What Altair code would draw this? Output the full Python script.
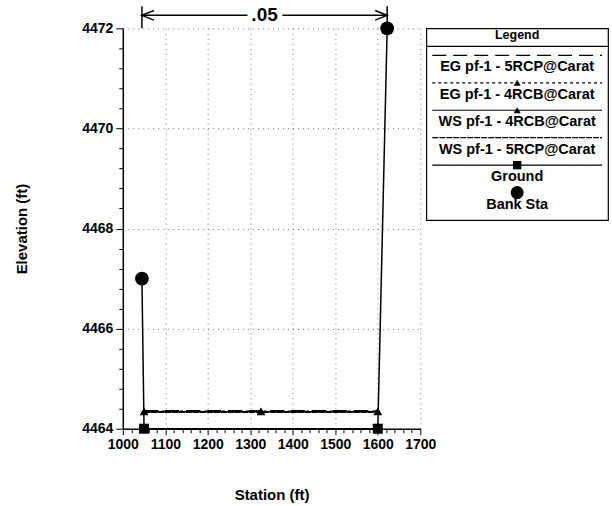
import altair as alt
import pandas as pd

# ---------------- data ----------------
ground_sta = [1045, 1050, 1600, 1622]
ground_elev = [4467.0, 4464.0, 4464.0, 4472.0]
bank_sta = [1045, 1622]
bank_elev = [4467.0, 4472.0]
ws_sta = [1050, 1325, 1600]
eg_5rcp = [4464.36, 4464.36, 4464.36]
eg_4rcb = [4464.35, 4464.35, 4464.35]
ws_4rcb = [4464.34, 4464.34, 4464.34]
ws_5rcp = [4464.33, 4464.33, 4464.33]
n_value = ".05"
n_left, n_right = 1045, 1622
legend_labels = ["EG pf-1 - 5RCP@Carat", "EG pf-1 - 4RCB@Carat",
                 "WS pf-1 - 4RCB@Carat", "WS pf-1 - 5RCP@Carat",
                 "Ground", "Bank Sta"]
x_ticks = list(range(1000, 1701, 20))
y_ticks = [round(4464 + 0.4 * i, 1) for i in range(21)]
x_domain = [1000, 1700]
y_domain = [4464, 4472]

FONT = "Liberation Sans"

rows = []
for name, vals in [(legend_labels[0], eg_5rcp), (legend_labels[1], eg_4rcb),
                   (legend_labels[2], ws_4rcb), (legend_labels[3], ws_5rcp)]:
    for s, e in zip(ws_sta, vals):
        rows.append({"series": name, "station": s, "elev": e})
for s, e in zip(ground_sta, ground_elev):
    rows.append({"series": "Ground", "station": s, "elev": e})
lines_df = pd.DataFrame(rows)
bank_df = pd.DataFrame({"station": bank_sta, "elev": bank_elev})

dash_range = [[14, 7], [3, 3], [1, 0], [6, 1], [1, 0]]
dash_scale = alt.Scale(domain=legend_labels[:5], range=dash_range)

x_major = "datum.value % 100 === 0"
y_major = "abs(datum.value / 2 - round(datum.value / 2)) < 0.001"

x_axis = alt.Axis(
    values=x_ticks, tickCount=200,
    labelExpr=f"{x_major} ? format(datum.value, 'd') : ''",
    labelOverlap=False, labelFlush=False,
    tickSize={"condition": {"test": x_major, "value": 6}, "value": 4},
    tickColor="black", tickWidth=1,
    grid=True,
    gridColor={"condition": {"test": x_major + " && datum.value > 1000", "value": "#777777"},
               "value": "transparent"},
    gridDash=[1, 4], gridWidth=1,
    domainColor="black", domainWidth=1.5,
    labelFont=FONT, labelFontSize=14, labelFontWeight="bold", labelColor="black",
    labelPadding=3,
    titleFont=FONT, titleFontSize=15, titleFontWeight="bold", titleColor="black",
    titlePadding=36,
)
y_axis = alt.Axis(
    values=y_ticks, tickCount=200,
    labelExpr=f"{y_major} ? format(datum.value, 'd') : ''",
    labelOverlap=False, labelFlush=False,
    tickSize={"condition": {"test": y_major, "value": 7}, "value": 4},
    tickColor="black", tickWidth=1,
    grid=True,
    gridColor={"condition": {"test": y_major + " && datum.value > 4464", "value": "#777777"},
               "value": "transparent"},
    gridDash=[1, 4], gridWidth=1,
    domainColor="black", domainWidth=1.5,
    labelFont=FONT, labelFontSize=14, labelFontWeight="bold", labelColor="black",
    labelPadding=3,
    titleFont=FONT, titleFontSize=15, titleFontWeight="bold", titleColor="black",
    titlePadding=52,
)

X = alt.X("station:Q", scale=alt.Scale(domain=x_domain, nice=False, zero=False),
          axis=x_axis, title="Station (ft)")
Y = alt.Y("elev:Q", scale=alt.Scale(domain=y_domain, nice=False, zero=False),
          axis=y_axis, title="Elevation (ft)")

line_layer = alt.Chart(lines_df).mark_line(color="black", strokeWidth=1.5).encode(
    x=X, y=Y, detail="series:N",
    strokeDash=alt.StrokeDash("series:N", scale=dash_scale, legend=None),
)
squares = alt.Chart(lines_df).transform_filter(alt.datum.series == "Ground").mark_point(
    shape="square", filled=True, color="black", size=100, opacity=1).encode(x=X, y=Y)
triangles = alt.Chart(lines_df).transform_filter(
    alt.FieldOneOfPredicate(field="series", oneOf=[legend_labels[1], legend_labels[2]])
).mark_point(shape="triangle-up", filled=True, color="black", size=70, opacity=1).encode(x=X, y=Y)
circles = alt.Chart(bank_df).mark_point(
    shape="circle", filled=True, color="black", size=190, opacity=1).encode(x=X, y=Y)

# Manning's n annotation above the plot
arrow_elev = y_domain[1] + 0.26
bar_top = y_domain[1] + 0.44
ann_df = pd.DataFrame({"station": [n_left, n_right]})
ann_df["elev"] = y_domain[1]
ann_df["top"] = bar_top
bars = alt.Chart(ann_df).mark_rule(color="black", strokeWidth=1.5).encode(
    x=X, y=Y, y2="top:Q")
arrow_line = alt.Chart(pd.DataFrame({"station": [n_left], "s2": [n_right], "elev": [arrow_elev]})
                       ).mark_rule(color="black", strokeWidth=1.5).encode(x=X, x2="s2:Q", y=Y)
heads = alt.Chart(pd.DataFrame({"station": [n_left, n_right], "elev": [arrow_elev] * 2,
                                "side": ["l", "r"]})).mark_point(
    filled=False, color="black", strokeWidth=1.5, size=144, opacity=1).encode(
    x=X, y=Y,
    shape=alt.Shape("side:N", scale=alt.Scale(domain=["l", "r"],
                                              range=["M 2 -0.8 L 0 0 L 2 0.8",
                                                     "M -2 -0.8 L 0 0 L -2 0.8"]),
                    legend=None))
n_df = pd.DataFrame({"station": [(n_left + n_right) / 2], "elev": [arrow_elev], "label": [n_value]})
n_halo = alt.Chart(n_df).mark_text(font=FONT, fontSize=19, fontWeight="bold", color="white",
                                   stroke="white", strokeWidth=10, baseline="middle").encode(
    x=X, y=Y, text="label:N")
n_text = alt.Chart(n_df).mark_text(font=FONT, fontSize=19, fontWeight="bold", color="black",
                                   baseline="middle").encode(x=X, y=Y, text="label:N")

main = alt.layer(line_layer, squares, triangles, circles, bars, arrow_line, n_halo, n_text, heads
                 ).properties(width=298, height=401,
                              view=alt.ViewBackground(stroke="transparent"))

# ---------------- custom legend ----------------
leg_df = pd.DataFrame({"label": legend_labels, "row": list(range(len(legend_labels)))})
LY = alt.Y("row:Q", scale=alt.Scale(domain=[-0.982, 6.0], reverse=True, nice=False, zero=False),
           axis=None)
LW, LH = 182, 192
leg_rules = alt.Chart(leg_df).transform_filter(alt.datum.row < 5).mark_rule(
    color="black", strokeWidth=1.2).encode(
    x=alt.value(6), x2=alt.value(LW - 6), y=LY,
    strokeDash=alt.StrokeDash("label:N", scale=dash_scale, legend=None))
leg_tri = alt.Chart(leg_df).transform_filter(
    alt.FieldOneOfPredicate(field="label", oneOf=[legend_labels[1], legend_labels[2]])
).mark_point(shape="triangle-up", filled=True, color="black", size=50, opacity=1).encode(
    x=alt.value(LW / 2), y=LY)
leg_sq = alt.Chart(leg_df).transform_filter(alt.datum.label == "Ground").mark_point(
    shape="square", filled=True, color="black", size=70, opacity=1).encode(x=alt.value(LW / 2), y=LY)
leg_circ = alt.Chart(leg_df).transform_filter(alt.datum.label == "Bank Sta").mark_point(
    shape="circle", filled=True, color="black", size=170, opacity=1).encode(x=alt.value(LW / 2), y=LY)
leg_text = alt.Chart(leg_df).mark_text(font=FONT, fontSize=14.5, fontWeight="bold", color="black",
                                       baseline="middle", dy=12).encode(
    x=alt.value(LW / 2), y=LY, text="label:N")
leg_title = alt.Chart(pd.DataFrame({"t": ["Legend"]})).mark_text(
    font=FONT, fontSize=12.5, fontWeight="bold", color="black", baseline="middle").encode(
    x=alt.value(LW / 2), y=alt.value(7), text="t:N")
leg_under = alt.Chart(pd.DataFrame({"t": ["Legend"]})).mark_rule(color="black", strokeWidth=1.2).encode(
    x=alt.value(0), x2=alt.value(LW), y=alt.value(18))

legend = alt.layer(leg_rules, leg_tri, leg_sq, leg_circ, leg_text, leg_title, leg_under).properties(
    width=LW, height=LH, view=alt.ViewBackground(stroke="black", strokeWidth=1.2, fill="white"))

chart = alt.hconcat(main, legend, spacing=6, bounds="flush").properties(
    padding={"left": 14, "top": 4, "right": 2, "bottom": 2}
).resolve_scale(strokeDash="shared", shape="independent").configure(background="white")

chart.save("out.html", embed_options={"renderer": "svg", "actions": False})
